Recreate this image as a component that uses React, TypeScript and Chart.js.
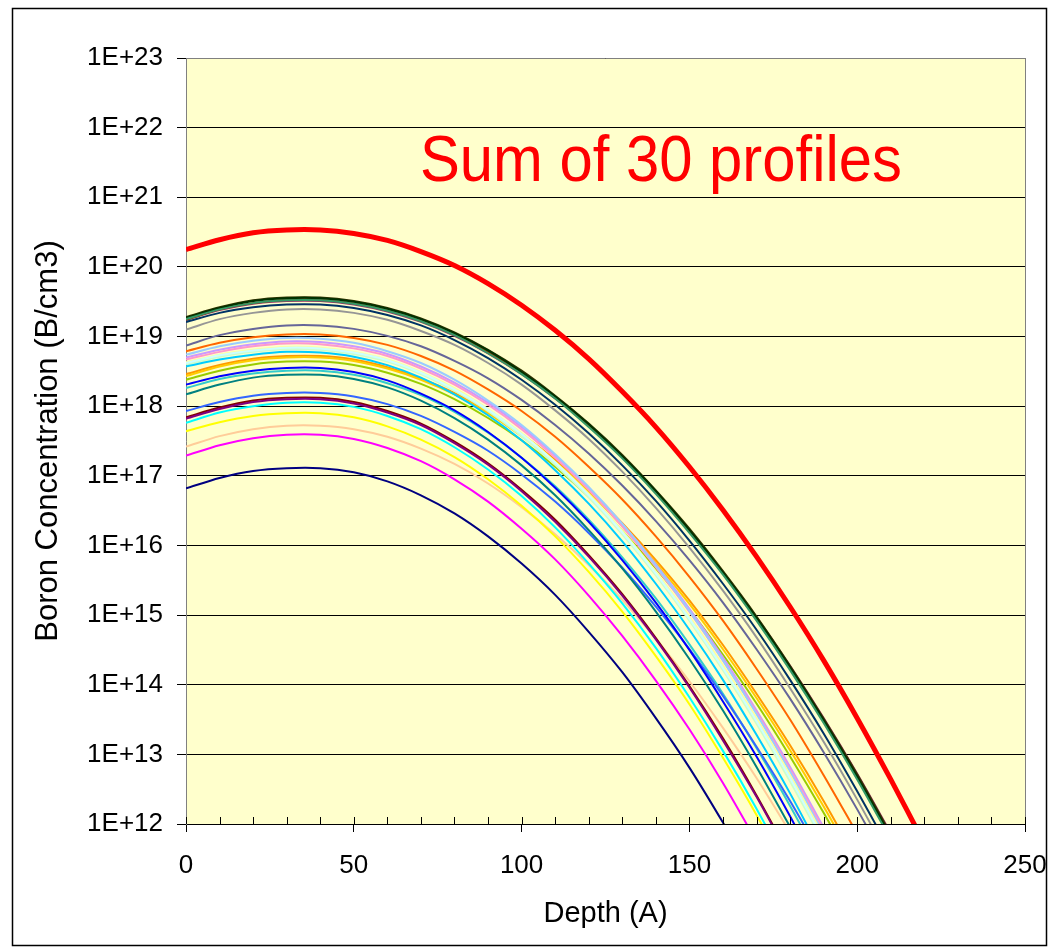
import React, { useEffect, useRef } from "react";
import { Chart, registerables } from "chart.js";

Chart.register(...registerables);

const FONT = '"Liberation Sans", Arial, Helvetica, sans-serif';

// Depth grid (Angstrom) shared by all profiles
const DEPTH = [0, 10, 20, 30, 40, 50, 60, 70, 80, 90, 100, 110, 120, 130, 140, 150, 160, 170, 180, 190, 200, 210, 220];
const X_MINOR_TICKS = [0, 10, 20, 30, 40, 50, 60, 70, 80, 90, 100, 110, 120, 130, 140, 150, 160, 170, 180, 190, 200, 210, 220, 230, 240, 250];
const Y_EXPONENTS = [12, 13, 14, 15, 16, 17, 18, 19, 20, 21, 22, 23];
const Y_TICK_LABELS = ["1E+12", "1E+13", "1E+14", "1E+15", "1E+16", "1E+17", "1E+18", "1E+19", "1E+20", "1E+21", "1E+22", "1E+23"];

// log10(concentration) at each DEPTH
const P_NAVY = [16.82, 16.97, 17.07, 17.11, 17.11, 17.05, 16.92, 16.72, 16.46, 16.13, 15.74, 15.29, 14.76, 14.18, 13.52, 12.81, 12.02, 11.18];
const P_MAGENTA = [17.29, 17.44, 17.54, 17.59, 17.59, 17.53, 17.40, 17.21, 16.95, 16.63, 16.24, 15.80, 15.28, 14.70, 14.06, 13.36, 12.59, 11.75];
const P_YELLOW = [17.64, 17.77, 17.86, 17.90, 17.90, 17.84, 17.71, 17.52, 17.27, 16.95, 16.57, 16.13, 15.62, 15.05, 14.41, 13.72, 12.95, 12.13, 11.24];
const P_CYAN = [17.76, 17.91, 18.00, 18.05, 18.05, 17.99, 17.86, 17.67, 17.41, 17.09, 16.71, 16.26, 15.74, 15.17, 14.53, 13.82, 13.05, 12.22, 11.32];
const P_PURPLE = [17.82, 17.96, 18.06, 18.10, 18.10, 18.04, 17.91, 17.73, 17.47, 17.16, 16.78, 16.34, 15.84, 15.28, 14.65, 13.96, 13.20, 12.39, 11.51];
const P_DARKRED = [17.84, 17.98, 18.08, 18.12, 18.12, 18.06, 17.93, 17.75, 17.49, 17.18, 16.80, 16.37, 15.86, 15.30, 14.67, 13.98, 13.23, 12.41, 11.53];
const P_TEAL = [18.17, 18.31, 18.41, 18.45, 18.45, 18.39, 18.27, 18.08, 17.83, 17.52, 17.15, 16.72, 16.22, 15.67, 15.05, 14.37, 13.63, 12.82, 11.96];
const P_BLUE = [18.31, 18.43, 18.51, 18.55, 18.55, 18.49, 18.37, 18.18, 17.94, 17.63, 17.26, 16.83, 16.34, 15.79, 15.18, 14.50, 13.76, 12.97, 12.11, 11.19];
const P_SKY = [18.57, 18.67, 18.74, 18.78, 18.77, 18.71, 18.59, 18.41, 18.17, 17.87, 17.51, 17.08, 16.60, 16.06, 15.45, 14.79, 14.07, 13.28, 12.44, 11.53];
const P_LTTURQ = [18.62, 18.73, 18.80, 18.84, 18.83, 18.77, 18.66, 18.48, 18.24, 17.95, 17.60, 17.19, 16.72, 16.19, 15.60, 14.95, 14.24, 13.48, 12.66, 11.77];
const P_LTGREEN = [18.60, 18.71, 18.78, 18.82, 18.81, 18.75, 18.64, 18.46, 18.22, 17.93, 17.57, 17.16, 16.69, 16.16, 15.57, 14.92, 14.21, 13.44, 12.61, 11.73];
const P_LTYELLOW = [18.63, 18.74, 18.81, 18.85, 18.84, 18.78, 18.67, 18.49, 18.26, 17.96, 17.61, 17.20, 16.74, 16.21, 15.62, 14.98, 14.28, 13.52, 12.70, 11.82];
const P_PALEBLUE = [18.74, 18.86, 18.94, 18.98, 18.97, 18.91, 18.79, 18.62, 18.38, 18.08, 17.73, 17.31, 16.84, 16.31, 15.71, 15.06, 14.35, 13.58, 12.75, 11.86];
const P_ROSE = [18.67, 18.78, 18.86, 18.90, 18.89, 18.83, 18.72, 18.54, 18.31, 18.02, 17.67, 17.26, 16.80, 16.27, 15.69, 15.05, 14.35, 13.60, 12.78, 11.91];
const P_LAVENDER = [18.70, 18.81, 18.89, 18.93, 18.92, 18.86, 18.75, 18.57, 18.34, 18.05, 17.70, 17.29, 16.83, 16.31, 15.73, 15.09, 14.39, 13.63, 12.82, 11.95];
const P_TAN = [17.42, 17.57, 17.67, 17.72, 17.72, 17.67, 17.56, 17.39, 17.17, 16.89, 16.55, 16.16, 15.72, 15.22, 14.66, 14.05, 13.38, 12.66, 11.88];
const P_LTBLUE = [17.93, 18.06, 18.15, 18.19, 18.19, 18.14, 18.03, 17.86, 17.63, 17.36, 17.02, 16.63, 16.18, 15.68, 15.12, 14.51, 13.84, 13.11, 12.33, 11.49];
const P_AQUA = [18.26, 18.39, 18.47, 18.51, 18.51, 18.45, 18.33, 18.16, 17.92, 17.62, 17.26, 16.85, 16.37, 15.83, 15.24, 14.58, 13.87, 13.09, 12.26, 11.37];
const P_LIME = [18.38, 18.51, 18.60, 18.64, 18.64, 18.59, 18.48, 18.32, 18.10, 17.83, 17.51, 17.13, 16.70, 16.21, 15.67, 15.08, 14.43, 13.73, 12.97, 12.16, 11.30];
const P_GOLD = [18.43, 18.57, 18.66, 18.70, 18.70, 18.65, 18.54, 18.38, 18.17, 17.90, 17.57, 17.20, 16.77, 16.28, 15.75, 15.16, 14.51, 13.81, 13.06, 12.25, 11.39];
const P_LTORANGE = [18.46, 18.59, 18.68, 18.72, 18.72, 18.67, 18.56, 18.40, 18.19, 17.92, 17.60, 17.23, 16.80, 16.32, 15.79, 15.21, 14.57, 13.87, 13.13, 12.33, 11.47];
const P_ORANGE = [18.79, 18.91, 18.99, 19.03, 19.03, 18.98, 18.88, 18.72, 18.51, 18.24, 17.93, 17.56, 17.13, 16.66, 16.13, 15.55, 14.92, 14.23, 13.50, 12.70, 11.86];
const P_BLUEGRAY = [18.87, 19.02, 19.11, 19.16, 19.16, 19.11, 19.01, 18.86, 18.65, 18.40, 18.09, 17.73, 17.32, 16.86, 16.35, 15.79, 15.18, 14.51, 13.80, 13.03, 12.21, 11.34];
const P_GRAY = [19.10, 19.25, 19.34, 19.39, 19.39, 19.34, 19.24, 19.08, 18.88, 18.62, 18.31, 17.94, 17.53, 17.06, 16.54, 15.97, 15.35, 14.68, 13.95, 13.18, 12.35, 11.47];
const P_DARKTEAL = [19.21, 19.34, 19.42, 19.46, 19.46, 19.41, 19.31, 19.16, 18.95, 18.69, 18.38, 18.02, 17.61, 17.15, 16.64, 16.07, 15.45, 14.79, 14.07, 13.30, 12.47, 11.60];
const P_SEAGREEN = [19.25, 19.39, 19.48, 19.52, 19.52, 19.47, 19.37, 19.22, 19.02, 18.76, 18.46, 18.11, 17.70, 17.25, 16.74, 16.18, 15.58, 14.92, 14.21, 13.45, 12.64, 11.78];
const P_DARKGREEN = [19.27, 19.41, 19.51, 19.55, 19.55, 19.50, 19.40, 19.25, 19.05, 18.80, 18.49, 18.14, 17.74, 17.28, 16.78, 16.22, 15.61, 14.96, 14.25, 13.49, 12.68, 11.82];
const P_OLIVE = [19.28, 19.42, 19.52, 19.56, 19.56, 19.51, 19.41, 19.26, 19.06, 18.81, 18.51, 18.15, 17.75, 17.30, 16.79, 16.24, 15.63, 14.98, 14.27, 13.51, 12.71, 11.85];
const P_BROWN = [19.24, 19.39, 19.48, 19.53, 19.53, 19.48, 19.38, 19.23, 19.03, 18.78, 18.48, 18.12, 17.72, 17.27, 16.76, 16.21, 15.60, 14.95, 14.24, 13.49, 12.68, 11.83];
const P_PLUM = [19.24, 19.38, 19.47, 19.51, 19.51, 19.46, 19.36, 19.21, 19.01, 18.76, 18.46, 18.11, 17.72, 17.27, 16.77, 16.22, 15.62, 14.97, 14.27, 13.52, 12.72, 11.87];
const P_SUM = [20.25, 20.39, 20.49, 20.53, 20.53, 20.48, 20.38, 20.22, 20.02, 19.76, 19.45, 19.09, 18.68, 18.21, 17.70, 17.13, 16.51, 15.84, 15.12, 14.35, 13.52, 12.64, 11.72];

const PROFILES: [string, number[]][] = [
  ["#000080", P_NAVY],
  ["#FF00FF", P_MAGENTA],
  ["#FFFF00", P_YELLOW],
  ["#00FFFF", P_CYAN],
  ["#800080", P_PURPLE],
  ["#800000", P_DARKRED],
  ["#008080", P_TEAL],
  ["#0000FF", P_BLUE],
  ["#00CCFF", P_SKY],
  ["#CCFFFF", P_LTTURQ],
  ["#CCFFCC", P_LTGREEN],
  ["#FFFF99", P_LTYELLOW],
  ["#99CCFF", P_PALEBLUE],
  ["#FF99CC", P_ROSE],
  ["#CC99FF", P_LAVENDER],
  ["#FFCC99", P_TAN],
  ["#3366FF", P_LTBLUE],
  ["#33CCCC", P_AQUA],
  ["#99CC00", P_LIME],
  ["#FFCC00", P_GOLD],
  ["#FF9900", P_LTORANGE],
  ["#FF6600", P_ORANGE],
  ["#666699", P_BLUEGRAY],
  ["#969696", P_GRAY],
  ["#003366", P_DARKTEAL],
  ["#339966", P_SEAGREEN],
  ["#003300", P_DARKGREEN],
  ["#333300", P_OLIVE],
  ["#993300", P_BROWN],
  ["#993366", P_PLUM],
];

const ANNOTATION = "Sum of 30 profiles";
const ANNOTATION_AT = { depth: 69.7, exponent: 21.24 };

const toPoints = (logs: number[]) => logs.map((v, i) => ({ x: DEPTH[i], y: Math.pow(10, v) }));

const decorPlugin = {
  id: "decor",
  beforeDraw(chart: any) {
    const { ctx, chartArea } = chart;
    ctx.save();
    ctx.fillStyle = "#FFFFCC";
    ctx.fillRect(chartArea.left, chartArea.top, chartArea.right - chartArea.left, chartArea.bottom - chartArea.top);
    ctx.restore();
  },
  afterDraw(chart: any) {
    const { ctx, chartArea } = chart;
    const xs = chart.scales.x;
    const ys = chart.scales.y;
    ctx.save();
    // plot-area border (top/right), gray
    ctx.strokeStyle = "#808080";
    ctx.lineWidth = 1;
    ctx.beginPath();
    ctx.moveTo(chartArea.left, Math.round(chartArea.top) + 0.5);
    ctx.lineTo(chartArea.right, Math.round(chartArea.top) + 0.5);
    ctx.moveTo(Math.round(chartArea.right) + 0.5, chartArea.top);
    ctx.lineTo(Math.round(chartArea.right) + 0.5, chartArea.bottom);
    ctx.stroke();
    // inside minor ticks on x axis
    ctx.strokeStyle = "#000000";
    ctx.beginPath();
    for (const v of X_MINOR_TICKS) {
      const px = Math.round(xs.getPixelForValue(v)) + 0.5;
      ctx.moveTo(px, chartArea.bottom);
      ctx.lineTo(px, chartArea.bottom - 7);
    }
    ctx.stroke();
    ctx.restore();
    // annotation text
    ctx.save();
    const tx = xs.getPixelForValue(ANNOTATION_AT.depth);
    const ty = ys.getPixelForValue(Math.pow(10, ANNOTATION_AT.exponent));
    ctx.translate(tx, ty);
    ctx.scale(0.92, 1);
    ctx.fillStyle = "#FF0000";
    ctx.font = `65px ${FONT}`;
    ctx.textAlign = "left";
    ctx.textBaseline = "alphabetic";
    ctx.fillText(ANNOTATION, 0, 0);
    ctx.restore();
    // outer chart border
    ctx.save();
    ctx.strokeStyle = "#000000";
    ctx.lineWidth = 1.5;
    ctx.strokeRect(12.5, 8.5, 1034, 937);
    ctx.restore();
  },
};

export default function App() {
  const ref = useRef<HTMLCanvasElement>(null);

  useEffect(() => {
    if (!ref.current) return;
    const datasets: any[] = PROFILES.map(([color, logs], i) => ({
      label: `Profile ${i + 1}`,
      data: toPoints(logs),
      borderColor: color,
      backgroundColor: color,
      borderWidth: 2,
      pointRadius: 0,
      tension: 0.3,
      fill: false,
    }));
    datasets.push({
      label: "Sum",
      data: toPoints(P_SUM),
      borderColor: "#FF0000",
      backgroundColor: "#FF0000",
      borderWidth: 5,
      pointRadius: 0,
      tension: 0.3,
      fill: false,
    });

    const chart = new Chart(ref.current, {
      type: "line",
      data: { datasets },
      plugins: [decorPlugin],
      options: {
        animation: false,
        responsive: false,
        maintainAspectRatio: false,
        layout: { padding: { left: 0, top: 58, right: 24, bottom: 0 } },
        plugins: {
          legend: { display: false },
          tooltip: { enabled: false },
          title: { display: false },
        },
        scales: {
          x: {
            type: "linear",
            position: "bottom",
            min: 0,
            max: 250,
            afterFit: (scale: any) => {
              scale.height = 125;
              scale.paddingLeft = 0;
              scale.paddingRight = 0;
            },
            ticks: {
              stepSize: 50,
              color: "#000000",
              font: { family: FONT, size: 26 },
              padding: 18,
              maxRotation: 0,
            },
            grid: {
              drawOnChartArea: false,
              drawTicks: true,
              tickLength: 8,
              color: "#000000",
              tickColor: "#000000",
            },
            border: { display: true, color: "#000000", width: 1 },
            title: {
              display: true,
              text: "Depth (A)",
              color: "#000000",
              font: { family: FONT, size: 29 },
              padding: { top: 0, bottom: 18 },
            },
          },
          y: {
            type: "logarithmic",
            position: "left",
            min: 1e12,
            max: 1e23,
            afterFit: (scale: any) => {
              scale.width = 186;
              scale.paddingTop = 0;
              scale.paddingBottom = 0;
            },
            afterBuildTicks: (scale: any) => {
              scale.ticks = Y_EXPONENTS.map((e) => ({ value: Math.pow(10, e) }));
            },
            ticks: {
              autoSkip: false,
              color: "#000000",
              font: { family: FONT, size: 26 },
              padding: 14,
              callback: (_v: any, index: number) => Y_TICK_LABELS[index],
            },
            grid: {
              drawOnChartArea: true,
              drawTicks: true,
              tickLength: 9,
              color: "#000000",
              tickColor: "#000000",
              lineWidth: 1,
            },
            border: { display: true, color: "#808080", width: 1 },
            title: {
              display: true,
              text: "Boron Concentration (B/cm3)",
              color: "#000000",
              font: { family: FONT, size: 31 },
              padding: { top: 30, bottom: 0 },
            },
          },
        },
      } as any,
    });
    return () => chart.destroy();
  }, []);

  return (
    <canvas
      ref={ref}
      width={1049}
      height={949}
      style={{ position: "absolute", left: 0, top: 0, display: "block" }}
    />
  );
}
